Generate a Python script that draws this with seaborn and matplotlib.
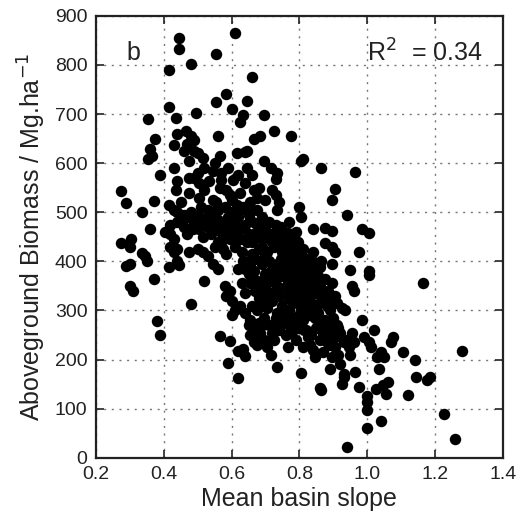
import pandas as pd
import matplotlib
matplotlib.use("Agg")
import matplotlib.pyplot as plt
import seaborn as sns

# Values, grouped by biomass band

# > 600 Mg/ha
slope_hi = [0.445, 0.445, 0.61, 0.555, 0.48, 0.415, 0.66, 0.415, 0.555, 0.585,
            0.645, 0.60, 0.435, 0.495, 0.635, 0.625, 0.695, 0.355, 0.725, 0.775,
            0.685, 0.665, 0.56, 0.44, 0.465, 0.48, 0.49, 0.375, 0.47, 0.43,
            0.49, 0.46, 0.645, 0.64, 0.36, 0.355, 0.365, 0.50, 0.515, 0.565,
            0.615, 0.805, 0.81, 0.695, 0.475, 0.52]
biomass_hi = [855, 832, 865, 822, 803, 790, 775, 715, 725, 740,
              727, 710, 693, 703, 698, 683, 698, 690, 665, 655,
              655, 650, 655, 660, 665, 655, 648, 650, 640, 637,
              625, 625, 625, 622, 628, 608, 615, 620, 610, 615,
              620, 605, 608, 605, 605, 590]

# 500 - 600
slope_500 = [0.865, 0.965, 0.43, 0.57, 0.645, 0.66, 0.715, 0.735, 0.73, 0.62,
             0.605, 0.59, 0.545, 0.535, 0.565, 0.44, 0.475, 0.49, 0.505, 0.39,
             0.275, 0.435, 0.475, 0.505, 0.545, 0.555, 0.58, 0.60, 0.595, 0.665,
             0.675, 0.72, 0.73, 0.74, 0.735, 0.905, 0.895, 0.80, 0.45, 0.415,
             0.43, 0.29, 0.37, 0.335, 0.51, 0.53, 0.56, 0.615, 0.625, 0.675,
             0.94]
biomass_500 = [590, 583, 590, 580, 590, 575, 590, 580, 568, 575,
               565, 590, 585, 563, 550, 563, 570, 570, 560, 575,
               543, 545, 540, 530, 525, 520, 510, 525, 535, 545,
               530, 545, 535, 520, 505, 548, 525, 510, 520, 515,
               505, 518, 522, 500, 510, 505, 505, 515, 505, 505,
               495]

# 400 - 500
slope_400 = [0.42, 0.44, 0.46, 0.47, 0.49, 0.485, 0.50, 0.52, 0.53, 0.545,
             0.56, 0.575, 0.59, 0.605, 0.615, 0.62, 0.64, 0.655, 0.67, 0.685,
             0.70, 0.71, 0.73, 0.745, 0.765, 0.77, 0.79, 0.78, 0.805, 0.84,
             0.875, 0.895, 0.985, 1.005, 0.36, 0.42, 0.405, 0.43, 0.47, 0.515,
             0.56, 0.58, 0.60, 0.625, 0.645, 0.665, 0.69, 0.705, 0.72, 0.74,
             0.76, 0.275, 0.30, 0.305, 0.335, 0.345, 0.35, 0.42, 0.43, 0.44,
             0.475, 0.50, 0.515, 0.53, 0.55, 0.575, 0.585, 0.61, 0.63, 0.66,
             0.68, 0.70, 0.725, 0.75, 0.77, 0.79, 0.81, 0.84, 0.875, 0.895,
             0.905, 0.975, 0.44, 0.445, 0.415, 0.545, 0.56, 0.635, 0.655, 0.67,
             0.69, 0.71, 0.73, 0.745, 0.76, 0.78, 0.80, 0.82, 0.84, 0.86,
             0.865, 0.895, 0.29, 0.30, 0.37]
biomass_400 = [475, 480, 470, 490, 478, 465, 475, 485, 470, 478,
               485, 475, 490, 480, 470, 490, 475, 485, 478, 470,
               465, 480, 475, 470, 458, 480, 460, 445, 490, 465,
               468, 462, 465, 458, 465, 455, 460, 445, 455, 450,
               440, 450, 455, 445, 440, 455, 445, 450, 440, 445,
               440, 437, 430, 445, 418, 410, 400, 430, 420, 425,
               420, 425, 420, 410, 430, 425, 415, 430, 420, 415,
               425, 410, 430, 420, 430, 415, 425, 420, 438, 430,
               420, 420, 400, 393, 388, 395, 385, 400, 390, 405,
               395, 400, 390, 405, 395, 400, 390, 405, 395, 388,
               400, 395, 390, 395, 365]

# 300 - 400
slope_300 = [0.30, 0.31, 0.52, 0.58, 0.595, 0.585, 0.60, 0.61, 0.60, 0.625,
             0.64, 0.655, 0.67, 0.68, 0.69, 0.70, 0.715, 0.725, 0.735, 0.745,
             0.755, 0.765, 0.775, 0.78, 0.79, 0.80, 0.81, 0.82, 0.83, 0.84,
             0.85, 0.86, 0.875, 0.885, 0.895, 0.905, 0.95, 0.955, 0.96, 1.005,
             1.005, 1.165, 0.66, 0.675, 0.69, 0.705, 0.72, 0.735, 0.75, 0.765,
             0.77, 0.78, 0.795, 0.805, 0.815, 0.825, 0.835, 0.85, 0.865, 0.88,
             0.895, 0.91, 0.925, 0.935, 0.48, 0.70, 0.72, 0.77, 0.81, 0.74,
             0.65, 0.66, 0.63, 0.62]
biomass_300 = [350, 340, 360, 350, 340, 330, 320, 300, 290, 310,
               335, 355, 340, 325, 360, 375, 380, 365, 350, 370,
               385, 360, 375, 350, 365, 380, 355, 370, 345, 360,
               335, 350, 365, 340, 355, 330, 382, 350, 340, 380,
               372, 355, 310, 300, 315, 305, 320, 295, 310, 325,
               300, 315, 330, 305, 320, 300, 315, 305, 320, 310,
               325, 315, 305, 300, 313, 345, 335, 340, 340, 330,
               375, 365, 355, 385]

# 200 - 300
slope_200 = [0.38, 0.39, 0.565, 0.595, 0.59, 0.62, 0.62, 0.635, 0.64, 0.655,
             0.665, 0.67, 0.675, 0.685, 0.69, 0.695, 0.705, 0.715, 0.725, 0.73,
             0.735, 0.74, 0.76, 0.765, 0.775, 0.785, 0.79, 0.80, 0.805, 0.81,
             0.82, 0.83, 0.835, 0.84, 0.845, 0.85, 0.86, 0.87, 0.875, 0.88,
             0.89, 0.895, 0.89, 0.905, 0.915, 0.92, 0.925, 0.93, 0.94, 0.945,
             0.95, 0.955, 0.96, 0.965, 0.975, 0.985, 0.99, 1.005, 1.01, 1.02,
             1.03, 1.035, 1.04, 1.05, 1.07, 1.075, 1.105, 1.14, 1.28, 0.86,
             0.865]
biomass_200 = [278, 250, 247, 238, 192, 162, 218, 222, 207, 280,
               260, 245, 230, 255, 270, 240, 225, 210, 240, 285,
               185, 260, 250, 225, 270, 285, 240, 275, 172, 225,
               260, 290, 250, 220, 205, 265, 240, 215, 280, 255,
               230, 205, 180, 245, 265, 190, 150, 165, 240, 225,
               210, 255, 235, 175, 145, 280, 245, 235, 225, 260,
               205, 180, 215, 205, 235, 245, 215, 200, 218, 142,
               138]

# < 200
slope_lo = [1.0, 1.0, 1.0, 0.998, 1.025, 1.04, 1.045, 1.055, 1.06, 1.12,
            1.145, 1.175, 1.185, 1.225, 1.26, 0.94, 0.93]
biomass_lo = [125, 113, 97, 60, 140, 75, 148, 130, 155, 127,
              165, 158, 165, 90, 38, 22, 170]

# the dense middle of the cloud
slope_core = [0.62, 0.635, 0.65, 0.66, 0.675, 0.69, 0.705, 0.715, 0.725, 0.735,
              0.75, 0.755, 0.765, 0.775, 0.785, 0.795, 0.80, 0.81, 0.825, 0.835,
              0.845, 0.855, 0.865, 0.87, 0.88, 0.89, 0.90, 0.91, 0.92, 0.93,
              0.64, 0.65, 0.665, 0.675, 0.685, 0.695, 0.705, 0.715, 0.725, 0.735,
              0.745, 0.755, 0.76, 0.77, 0.785, 0.795, 0.80, 0.815, 0.825, 0.83,
              0.84, 0.845, 0.855, 0.86, 0.87, 0.88, 0.885, 0.90, 0.905, 0.915,
              0.64, 0.65, 0.655, 0.665, 0.68, 0.695, 0.71, 0.72, 0.73, 0.745,
              0.755, 0.76, 0.77, 0.78, 0.795, 0.80, 0.81, 0.815, 0.825, 0.83,
              0.57, 0.585, 0.595, 0.60, 0.61, 0.635, 0.65, 0.66, 0.69, 0.545,
              0.53, 0.50, 0.46, 0.44, 0.455, 0.48, 0.505, 0.54, 0.55, 0.57,
              0.57, 0.585, 0.625, 0.64, 0.655, 0.68, 0.70, 0.52, 0.50, 0.55]
biomass_core = [460, 470, 455, 440, 460, 430, 420, 455, 445, 460,
                455, 435, 415, 405, 425, 440, 420, 400, 385, 405,
                380, 370, 360, 340, 330, 300, 285, 270, 255, 235,
                385, 400, 380, 360, 345, 330, 355, 365, 380, 395,
                385, 345, 370, 390, 375, 350, 340, 370, 355, 330,
                300, 285, 295, 275, 255, 235, 270, 255, 225, 210,
                295, 270, 250, 235, 275, 285, 270, 255, 265, 280,
                290, 275, 255, 260, 265, 290, 280, 260, 245, 230,
                460, 470, 445, 500, 495, 510, 495, 505, 490, 500,
                490, 495, 495, 500, 485, 500, 465, 455, 465, 440,
                565, 545, 540, 560, 520, 550, 525, 545, 580, 600]

slope = (slope_hi + slope_500 + slope_400 + slope_300 + slope_200
         + slope_lo + slope_core)
biomass = (biomass_hi + biomass_500 + biomass_400 + biomass_300 + biomass_200
           + biomass_lo + biomass_core)
df = pd.DataFrame({"slope": slope, "biomass": biomass})

sns.set_style("ticks")
plt.rcParams["font.family"] = ["Liberation Sans", "DejaVu Sans"]

fig = plt.figure(figsize=(5.18, 5.21), dpi=100)
ax = fig.add_axes([0.185, 0.1215, 0.786, 0.848])

sns.scatterplot(data=df, x="slope", y="biomass", ax=ax, color="black",
                s=68, linewidth=0, zorder=3)

ax.set_xlim(0.2, 1.4)
ax.set_ylim(0, 900)
ax.set_xticks([0.2, 0.4, 0.6, 0.8, 1.0, 1.2, 1.4])
ax.set_xticklabels(["0.2", "0.4", "0.6", "0.8", "1.0", "1.2", "1.4"])
ax.set_yticks(range(0, 1000, 100))
ax.grid(True, color="#777777", linestyle=(0, (1.5, 4)), linewidth=1.0)
ax.tick_params(direction="in", length=6, width=1.2, labelsize=14,
               top=True, right=True, pad=6, colors="#222222")
for sp in ax.spines.values():
    sp.set_linewidth(1.6)
    sp.set_color("#222222")

ax.set_xlabel("Mean basin slope", fontsize=18, color="#222222", labelpad=3)
ax.set_ylabel("Aboveground Biomass / Mg.ha$^{-1}$", fontsize=18,
              color="#222222", labelpad=5)

ax.text(0.075, 0.915, "b", transform=ax.transAxes, fontsize=18,
        va="center", ha="left", color="#222222")
ax.text(0.95, 0.915, "R$^2$  = 0.34", transform=ax.transAxes, fontsize=18,
        va="center", ha="right", color="#222222")

fig.savefig("out.png", dpi=100)
